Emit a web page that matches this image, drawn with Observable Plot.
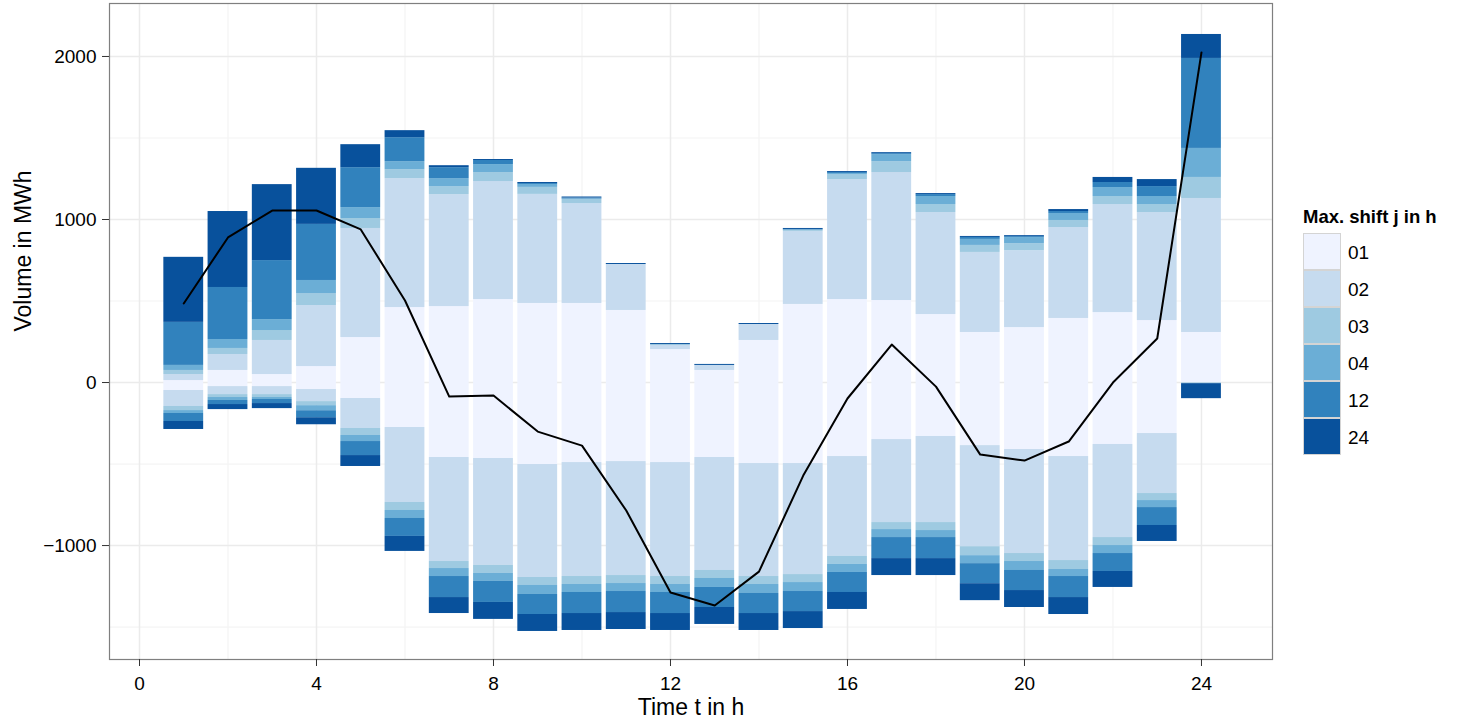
<!DOCTYPE html>
<html><head><meta charset="utf-8">
<script src="https://cdn.jsdelivr.net/npm/d3@7"></script>
<script src="https://cdn.jsdelivr.net/npm/@observablehq/plot@0.6"></script>
<style>
html,body{margin:0;padding:0;background:#fff;overflow:hidden;}
#wrap{position:relative;width:1476px;height:723px;font-family:"Liberation Sans",Arial,sans-serif;color:#000;}
#chart{position:absolute;left:0;top:0;}
#legend{position:absolute;left:1303px;top:207px;}
#legend .lt{font-weight:bold;font-size:18.5px;line-height:20px;height:26px;white-space:nowrap;}
#legend .row{display:flex;align-items:center;height:37px;}
#legend .key{box-sizing:border-box;width:38px;height:37px;border:1px solid #d4d4d4;}
#legend .lab{font-size:19px;margin-left:7px;padding-top:2px;}
</style></head><body>
<div id="wrap"><div id="chart"></div><div id="legend"></div></div>
<script>
// ---- data ----
const hours = [1,2,3,4,5,6,7,8,9,10,11,12,13,14,15,16,17,18,19,20,21,22,23,24];
const categories = ["01","02","03","04","12","24"];
const colors = ["#eff3ff","#c6dbef","#9ecae1","#6baed6","#3182bd","#08519c"];

// positive volumes (MWh) per max shift j
const pos01 = [12,74,49,98,276,460,466,509,485,485,442,202,74,258,479,509,503,417,307,337,393,429,380,307];
const pos02 = [37,98,209,374,669,791,687,724,669,613,282,25,31,98,448,736,785,626,491,472,558,663,663,822];
const pos03 = [25,37,61,74,61,55,49,55,43,25,0,6,0,0,6,31,67,49,43,43,43,49,49,129];
const pos04 = [31,55,67,80,67,49,49,49,18,3,0,0,0,0,3,6,43,49,37,37,43,55,49,178];
const pos12 = [264,319,362,344,245,147,67,25,6,6,0,0,0,0,3,6,6,12,12,6,12,31,61,552];
const pos24 = [399,466,466,344,141,43,12,6,6,6,6,6,6,6,6,6,6,6,6,6,12,31,43,147];
// negative volumes (MWh) per max shift j
const neg01 = [-49,-25,-25,-43,-98,-276,-460,-466,-503,-491,-485,-491,-460,-497,-497,-454,-350,-331,-387,-411,-454,-380,-313,0];
const neg02 = [-98,-49,-49,-74,-184,-460,-638,-656,-693,-699,-699,-699,-693,-693,-681,-613,-509,-528,-620,-638,-638,-571,-368,-3];
const neg03 = [-25,-18,-18,-25,-43,-49,-43,-49,-49,-49,-49,-49,-49,-49,-49,-49,-43,-49,-55,-49,-55,-49,-43,-4];
const neg04 = [-18,-18,-12,-31,-37,-49,-49,-49,-55,-49,-49,-49,-55,-55,-55,-49,-49,-43,-49,-55,-43,-49,-43,0];
const neg12 = [-49,-25,-25,-43,-86,-110,-129,-129,-123,-129,-129,-129,-123,-123,-123,-123,-129,-129,-123,-123,-129,-110,-110,0];
const neg24 = [-49,-31,-31,-43,-67,-92,-98,-104,-104,-104,-104,-104,-104,-104,-104,-104,-104,-104,-104,-104,-104,-98,-98,-92];
// net volume line
const net = [485,890,1055,1055,939,503,-86,-80,-301,-387,-785,-1288,-1368,-1160,-571,-98,233,-25,-442,-479,-362,0,270,2025];

const xMajor = [0,4,8,12,16,20,24];
const xMinor = [2,6,10,14,18,22];
const yMajor = [-1000,0,1000,2000];
const yMinor = [-1500,-500,500,1500];

// ---- build table ----
const posSeries = [pos01,pos02,pos03,pos04,pos12,pos24];
const negSeries = [neg01,neg02,neg03,neg04,neg12,neg24];
const table = [];
hours.forEach((t, i) => {
  categories.forEach((j, k) => {
    if (posSeries[k][i] !== 0) table.push({t, j, v: posSeries[k][i]});
    if (negSeries[k][i] !== 0) table.push({t, j, v: negSeries[k][i]});
  });
});
const lineData = hours.map((t, i) => ({t, v: net[i]}));

const fmt = d => d < 0 ? "\u2212" + Math.abs(d) : String(d);

const chart = Plot.plot({
  width: 1290, height: 723,
  marginLeft: 109, marginRight: 18, marginTop: 3, marginBottom: 64,
  x: {domain: [-0.678, 25.605]},
  y: {domain: [-1699, 2325]},
  color: {domain: categories, range: colors},
  style: {fontFamily: "Liberation Sans, Arial, sans-serif", fontSize: "19px", color: "#000", background: "#fff"},
  marks: [
    Plot.ruleX(xMinor, {stroke: "#f4f4f4", strokeWidth: 1.2}),
    Plot.ruleY(yMinor, {stroke: "#f4f4f4", strokeWidth: 1.2}),
    Plot.ruleX(xMajor, {stroke: "#ebebeb", strokeWidth: 1.5}),
    Plot.ruleY(yMajor, {stroke: "#ebebeb", strokeWidth: 1.5}),
    Plot.rectY(table, Plot.stackY({x1: d => d.t - 0.45, x2: d => d.t + 0.45, y: "v", fill: "j"})),
    Plot.line(lineData, {x: "t", y: "v", stroke: "#000", strokeWidth: 2}),
    Plot.frame({stroke: "#7f7f7f", strokeWidth: 1.2}),
    Plot.axisX({ticks: xMajor, tickSize: 7, tickPadding: 10, label: null, tickFormat: fmt, stroke: "#333", fill: "#000"}),
    Plot.axisY({ticks: yMajor, tickSize: 7, tickPadding: 6, label: null, tickFormat: fmt, stroke: "#333", fill: "#000"}),
    Plot.text(["Time t in h"], {frameAnchor: "bottom", dy: 55, fontSize: 23, fill: "#000"}),
    Plot.text(["Volume in MWh"], {frameAnchor: "left", dx: -86, rotate: -90, fontSize: 23, fill: "#000"})
  ]
});
document.getElementById("chart").appendChild(chart);

const lg = document.getElementById("legend");
lg.innerHTML = `<div class="lt">Max. shift j in h</div>` +
  categories.map((c, i) => `<div class="row"><span class="key" style="background:${colors[i]}"></span><span class="lab">${c}</span></div>`).join("");
</script>
</body></html>
